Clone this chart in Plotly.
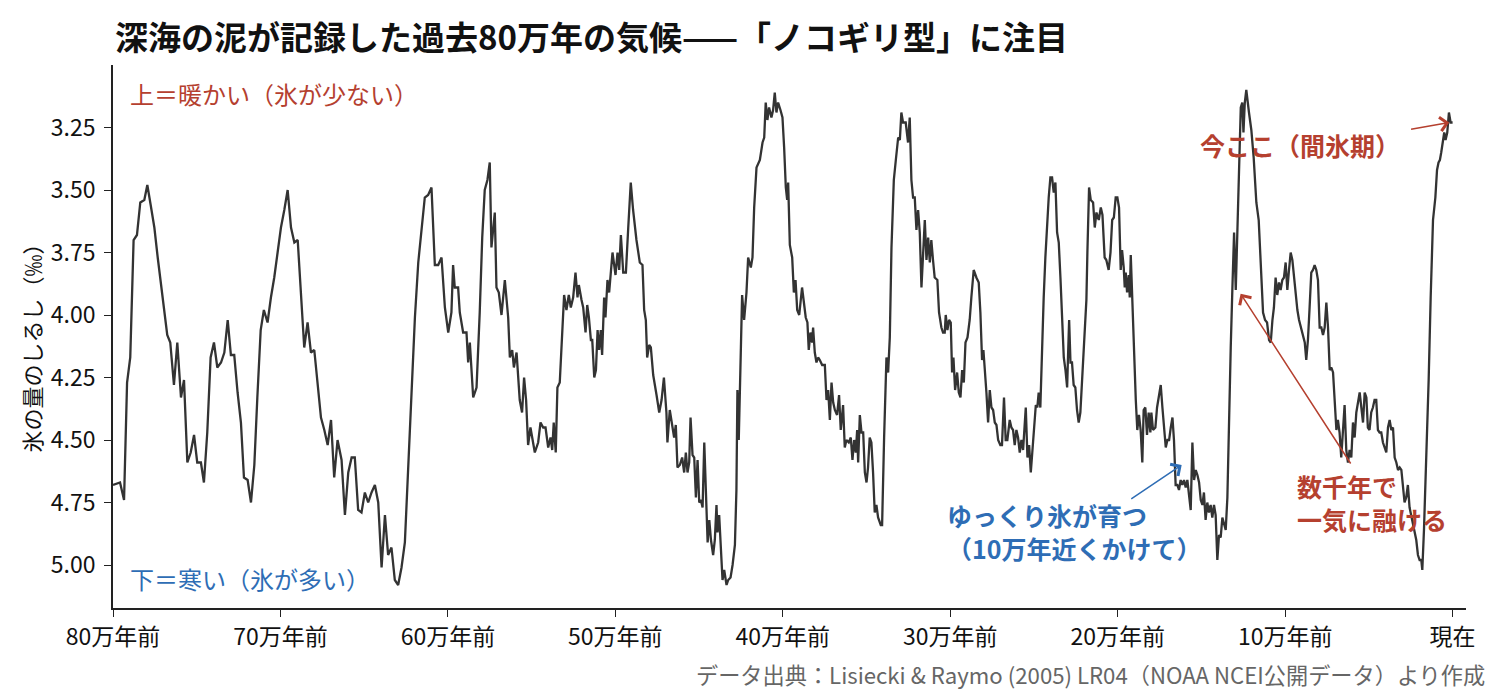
import plotly.graph_objects as go

# ---- data ----
age_kyr = [
    800.0, 795.8, 793.4, 791.6, 789.7, 787.7, 785.7, 783.7, 781.3, 779.5, 777.5, 775.3, 773.3, 771.3, 769.6,
    767.6, 765.8, 763.6, 761.6, 759.4, 757.6, 755.6, 753.6, 751.6, 749.7, 747.5, 745.7, 743.7, 741.7, 739.7,
    737.7, 735.5, 733.5, 731.5, 729.6, 727.6, 725.6, 723.6, 721.8, 719.6, 717.6, 715.6, 713.8, 711.8, 709.9,
    707.7, 705.7, 703.7, 701.7, 699.7, 697.7, 695.7, 693.7, 691.7, 689.7, 687.8, 685.8, 683.8, 681.8, 679.8,
    677.8, 675.8, 673.8, 671.8, 669.8, 667.9, 665.9,
    663.5, 661.5, 659.5, 657.5, 655.6, 653.6, 651.6, 649.6, 647.6, 645.6, 643.6, 641.6, 639.6, 637.6, 635.7,
    633.7, 631.7, 629.7, 627.7, 625.7, 623.7, 621.7, 619.7, 617.7, 615.8, 613.8, 611.8, 609.8, 607.8, 605.8,
    603.8, 601.8, 599.8, 597.9, 596.9, 595.9, 593.9, 592.9, 590.9, 588.9, 587.9, 586.9, 584.9, 582.9, 581.0,
    579.5, 578.0, 576.4, 575.0, 574.0, 572.0, 571.0, 569.6, 568.0, 566.0, 564.0, 563.0, 561.6, 560.6, 559.0,
    557.1, 555.7, 554.5, 553.3, 552.1, 550.7, 548.1, 546.1, 544.7, 543.1, 541.7, 540.1, 538.7, 537.7, 536.8,
    535.6, 534.6, 533.2, 530.6,
    529.2, 527.8, 526.6, 525.2, 523.8, 522.6, 521.8, 520.2, 519.2, 517.8, 516.8, 515.8, 514.6, 513.8, 512.6,
    511.6, 510.6, 509.7, 508.7, 507.9, 506.7, 505.9, 504.7, 503.7, 501.7, 499.9, 498.7, 497.7, 496.7, 495.3,
    493.7, 492.3, 490.8, 489.4, 487.4, 485.4, 483.8, 482.8, 481.8, 481.0, 479.8, 478.8, 477.4, 475.4, 473.8,
    472.4, 471.0, 469.5, 468.9, 467.5, 466.1, 464.9, 463.9, 462.9, 461.5, 460.1, 458.9, 457.9, 456.9, 455.9,
    455.1, 453.9, 452.9, 451.9, 450.9, 449.9, 448.9, 447.9, 446.9, 445.9, 444.9, 443.9, 442.9, 441.6, 440.6,
    439.6, 439.0, 438.0, 437.0, 436.0, 435.0, 433.6, 432.6, 431.2, 430.0, 428.6, 427.7, 427.1, 426.3, 425.3,
    424.3, 423.1, 421.7, 420.7, 419.1, 418.1, 417.1, 415.7, 413.7, 412.1, 411.1, 410.2, 409.2, 408.2, 406.8,
    405.8, 404.8, 403.8, 402.8, 401.4, 400.2, 399.2, 398.2, 397.4, 396.8, 395.8, 394.4, 393.4, 392.4, 391.4,
    390.2,
    388.5, 387.3, 386.3, 385.3, 384.5, 383.5, 382.5, 381.9, 380.9, 379.9, 378.9, 377.9, 376.5, 374.9, 373.9,
    372.9, 371.9, 370.9, 369.9, 368.9, 367.6, 366.4, 365.4, 364.0, 363.0, 362.0, 360.6, 359.4, 358.4, 357.4,
    356.4, 355.6, 355.0, 354.0, 353.0, 352.0, 351.0, 350.0, 349.1, 348.1, 347.1, 346.1, 345.1, 344.1, 343.1,
    341.5, 340.7, 339.5, 338.1, 337.1, 336.1, 335.1, 333.7, 332.5, 331.1, 330.1, 329.2, 328.2, 326.6, 325.2,
    324.2, 323.2, 322.2, 321.2, 320.2, 319.2, 318.2, 317.2, 316.2, 315.2, 314.2, 313.2, 312.2, 311.3, 310.3,
    309.3, 307.7, 306.7, 305.3, 304.3, 303.3, 302.7, 301.7, 300.7, 299.7, 298.9, 298.1, 297.1, 295.9, 294.9,
    293.9, 292.9, 291.9, 290.9, 289.7, 288.4, 287.4, 286.0, 284.4, 283.0, 282.0, 281.0, 280.2, 279.4, 278.4,
    277.4, 276.4, 275.4, 274.4, 273.4, 272.4, 271.4, 270.1, 269.1, 267.9, 266.9, 265.9, 264.5, 263.5, 262.5,
    261.5, 260.5, 259.5, 258.5, 257.5, 256.5,
    254.9, 253.9, 252.9, 251.9, 250.9, 249.9, 248.9, 248.0, 247.2, 246.2, 245.2, 244.2, 243.2, 242.2, 241.2,
    240.2, 239.2, 238.2, 237.2, 236.2, 235.2, 234.2, 233.2, 232.2, 231.2, 230.2, 229.6, 229.0, 228.2, 227.3,
    226.3, 225.3, 224.3, 223.3, 222.3, 221.3, 220.3, 219.3, 218.7, 218.1, 217.1, 216.1, 214.7, 213.7, 212.7,
    211.3, 210.1, 209.1, 207.8, 206.8, 205.4, 204.3, 203.3, 202.3, 201.2, 200.2, 199.2, 198.2, 197.4, 196.4,
    195.8, 195.2, 194.4, 193.4, 192.8, 192.2, 191.4, 190.4, 189.2, 188.3, 187.3, 186.3, 185.3, 184.5, 183.5,
    182.5, 181.5, 180.5, 179.9, 178.9, 177.5, 176.5, 175.3, 174.3, 173.3, 172.3, 171.3, 170.3, 169.3, 168.3,
    167.3, 166.4, 165.4, 164.4, 163.4, 162.4, 161.4, 160.4, 159.4, 158.4, 157.4, 156.4, 155.4, 154.4, 153.4,
    152.4, 151.4, 150.4, 149.4, 148.5, 147.5, 146.5, 145.5, 144.5, 143.5, 142.5, 141.5, 140.5, 139.5, 138.5,
    137.5, 136.5, 135.5, 134.5, 133.5, 132.5, 131.5, 130.5, 129.5, 128.5, 127.5, 126.5, 125.6, 124.9, 124.1,
    123.2,
    121.6, 120.2, 118.8, 117.2, 115.8, 114.6, 113.2, 112.0, 110.8, 109.6, 108.6, 107.6, 106.7, 105.7, 104.7,
    103.7, 102.7, 101.7, 100.7, 99.7, 98.7, 97.7, 96.7, 95.7, 94.7, 93.7, 92.7, 91.7, 90.7, 89.3,
    88.3, 87.4, 86.4, 85.4, 84.4, 83.4, 82.4, 81.4, 80.4, 79.4, 78.4, 77.4, 76.4, 75.4, 74.4,
    73.4, 72.4, 71.4, 70.4, 69.4, 68.5, 67.5, 66.5, 65.5, 64.5, 63.5, 62.5, 61.5, 60.5, 59.5,
    58.5, 57.5, 56.5, 55.5, 54.5, 53.5, 52.5, 51.5, 50.6, 49.6, 48.6, 47.6, 46.6, 45.6, 44.6,
    43.6, 42.6, 41.6, 40.6, 39.6, 38.6, 37.6, 36.6, 35.6, 34.6, 33.6, 32.6, 31.6, 30.6, 29.7,
    28.7, 27.7, 26.7, 25.7, 24.7, 23.7, 22.7, 21.7, 20.7, 19.7, 18.7, 18.1, 17.1, 15.7, 14.3,
    13.1, 11.7, 10.3, 9.3, 8.4, 7.6, 6.8, 5.8, 5.0, 4.2, 3.2, 2.2, 1.2, 0.0,
]

d18o = [
    4.68, 4.67, 4.74, 4.27, 4.17, 3.70, 3.68, 3.55, 3.54, 3.48, 3.56, 3.65, 3.77, 3.88, 3.99,
    4.08, 4.11, 4.28, 4.11, 4.33, 4.26, 4.59, 4.55, 4.48, 4.59, 4.59, 4.67, 4.47, 4.17, 4.11,
    4.21, 4.19, 4.15, 4.02, 4.16, 4.16, 4.31, 4.43, 4.65, 4.66, 4.75, 4.60, 4.33, 4.06, 3.98,
    4.03, 3.93, 3.85, 3.75, 3.65, 3.58, 3.50, 3.65, 3.71, 3.70, 3.91, 4.13, 4.03, 4.15, 4.14,
    4.27, 4.41, 4.46, 4.52, 4.42, 4.65, 4.50,
    4.58, 4.80, 4.63, 4.57, 4.57, 4.78, 4.79, 4.71, 4.75, 4.71, 4.68, 4.75, 5.01, 4.80, 4.96,
    4.93, 5.06, 5.08, 5.01, 4.91, 4.59, 4.26, 4.01, 3.79, 3.66, 3.53, 3.52, 3.49, 3.80, 3.80,
    3.77, 3.97, 4.07, 3.99, 3.80, 3.89, 3.89, 3.99, 4.07, 4.07, 4.19, 4.11, 4.33, 4.29, 3.99,
    3.69, 3.50, 3.46, 3.39, 3.73, 3.59, 3.89, 3.91, 4.00, 3.86, 4.01, 4.17, 4.14, 4.21, 4.15,
    4.34, 4.39, 4.25, 4.34, 4.52, 4.45, 4.55, 4.51, 4.43, 4.45, 4.45, 4.53, 4.49, 4.54, 4.43,
    4.55, 4.29, 4.27, 3.92,
    3.98, 3.92, 3.97, 3.93, 3.83, 3.93, 3.88, 3.94, 3.97, 4.07, 3.96, 4.01, 4.10, 4.10, 4.25,
    4.22, 4.06, 4.14, 4.06, 4.16, 3.93, 4.01, 3.86, 3.91, 3.75, 3.84, 3.75, 3.82, 3.68, 3.83,
    3.83, 3.65, 3.47, 3.58, 3.70, 3.79, 3.80, 3.98, 4.02, 4.17, 4.12, 4.13, 4.24, 4.32, 4.39,
    4.34, 4.25, 4.39, 4.51, 4.38, 4.45, 4.49, 4.44, 4.61, 4.60, 4.57, 4.63, 4.55, 4.63, 4.59,
    4.41, 4.56, 4.57, 4.73, 4.58, 4.75, 4.74, 4.77, 4.51, 4.73, 4.91, 4.82, 4.90, 4.96, 4.90,
    4.76, 4.87, 4.80, 4.93, 5.06, 5.02, 5.08, 5.06, 5.05, 5.00, 4.92, 4.70, 4.30, 4.50, 4.22,
    3.92, 4.02, 3.91, 3.77, 3.81, 3.77, 3.57, 3.41, 3.38, 3.31, 3.29, 3.15, 3.22, 3.17, 3.21,
    3.18, 3.11, 3.19, 3.15, 3.18, 3.21, 3.33, 3.49, 3.54, 3.47, 3.72, 3.77, 3.91, 3.86, 3.98,
    4.00,
    3.89, 3.97, 4.01, 4.03, 4.14, 4.07, 4.11, 4.05, 4.15, 4.19, 4.17, 4.18, 4.20, 4.20, 4.34,
    4.30, 4.42, 4.27, 4.35, 4.38, 4.40, 4.32, 4.46, 4.36, 4.53, 4.50, 4.51, 4.49, 4.58, 4.50,
    4.55, 4.46, 4.59, 4.40, 4.47, 4.47, 4.63, 4.67, 4.61, 4.49, 4.51, 4.63, 4.79, 4.76, 4.81,
    4.84, 4.84, 4.49, 4.17, 4.23, 4.09, 3.73, 3.46, 3.38, 3.29, 3.30, 3.19, 3.23, 3.23, 3.31,
    3.21, 3.46, 3.53, 3.53, 3.66, 3.58, 3.67, 3.89, 3.73, 3.62, 3.78, 3.69, 3.79, 3.70, 3.78,
    3.85, 3.86, 3.99, 4.05, 4.07, 4.07, 4.00, 4.06, 4.02, 4.03, 4.23, 4.17, 4.30, 4.23, 4.31,
    4.33, 4.22, 4.27, 4.11, 4.09, 4.02, 3.93, 3.82, 3.85, 3.87, 3.99, 4.18, 4.14, 4.21, 4.31,
    4.43, 4.30, 4.37, 4.38, 4.43, 4.44, 4.50, 4.52, 4.52, 4.33, 4.50, 4.50, 4.42, 4.45, 4.46,
    4.52, 4.46, 4.49, 4.55, 4.50, 4.54,
    4.37, 4.57, 4.52, 4.63, 4.53, 4.43, 4.36, 4.37, 4.31, 4.37, 4.13, 3.93, 3.77, 3.63, 3.53,
    3.45, 3.45, 3.51, 3.47, 3.67, 3.71, 3.85, 3.99, 4.17, 4.22, 4.29, 4.15, 4.02, 4.19, 4.19,
    4.28, 4.29, 4.38, 4.43, 4.39, 4.26, 4.09, 3.97, 3.94, 3.75, 3.49, 3.54, 3.55, 3.65, 3.59,
    3.62, 3.57, 3.60, 3.77, 3.78, 3.82, 3.75, 3.62, 3.61, 3.53, 3.53, 3.57, 3.82, 3.74, 3.81,
    3.89, 3.83, 3.91, 3.84, 3.93, 3.76, 3.93, 4.11, 4.34, 4.46, 4.40, 4.46, 4.59, 4.38, 4.37,
    4.48, 4.39, 4.47, 4.39, 4.46, 4.45, 4.37, 4.32, 4.28, 4.37, 4.46, 4.53, 4.50, 4.50, 4.45,
    4.41, 4.50, 4.68, 4.68, 4.70, 4.66, 4.68, 4.66, 4.69, 4.66, 4.71, 4.78, 4.51, 4.66, 4.62,
    4.64, 4.67, 4.74, 4.76, 4.71, 4.82, 4.75, 4.79, 4.76, 4.81, 4.76, 4.80, 4.98, 4.88, 4.89,
    4.81, 4.84, 4.86, 4.73, 4.39, 4.13, 3.89, 3.67, 3.90, 3.66, 3.39, 3.17, 3.15, 3.27, 3.15,
    3.10,
    3.19, 3.26, 3.37, 3.55, 3.62, 3.81, 3.99, 4.02, 4.03, 4.10, 4.11, 4.02, 3.97, 3.85, 3.92,
    3.87, 3.90, 3.86, 3.85, 3.79, 3.90, 3.82, 3.75, 3.78, 3.85, 3.91, 3.98, 4.02, 4.05, 4.08,
    4.11, 4.18, 4.10, 3.97, 3.83, 3.82, 3.80, 3.82, 3.86, 4.05, 4.05, 4.08, 4.05, 3.95, 4.05,
    4.22, 4.21, 4.23, 4.34, 4.46, 4.42, 4.47, 4.57, 4.45, 4.36, 4.54, 4.59, 4.54, 4.57, 4.43,
    4.49, 4.39, 4.34, 4.31, 4.37, 4.43, 4.31, 4.33, 4.45, 4.46, 4.39, 4.37, 4.34, 4.34, 4.46,
    4.47, 4.47, 4.51, 4.53, 4.55, 4.45, 4.42, 4.46, 4.45, 4.57, 4.59, 4.62, 4.61, 4.62, 4.68,
    4.75, 4.73, 4.68, 4.77, 4.80, 4.84, 4.87, 4.90, 4.96, 4.98, 4.98, 5.02, 4.86, 4.59, 4.26,
    3.93, 3.62, 3.53, 3.42, 3.39, 3.38, 3.35, 3.30, 3.27, 3.30, 3.27, 3.19, 3.23, 3.23,
]

x_tick_vals = [800, 700, 600, 500, 400, 300, 200, 100, 0]
x_tick_text = ["80万年前", "70万年前", "60万年前", "50万年前", "40万年前",
               "30万年前", "20万年前", "10万年前", "現在"]
y_tick_vals = [3.25, 3.50, 3.75, 4.00, 4.25, 4.50, 4.75, 5.00]

title_text = "深海の泥が記録した過去80万年の気候——「ノコギリ型」に注目"
y_title = "氷の量のしるし（‰）"
source_text = "データ出典：Lisiecki & Raymo (2005) LR04（NOAA NCEI公開データ）より作成"

RED = "#b5402f"
BLUE = "#2e6db5"
FONT = "Noto Sans CJK JP"
TICK = 23
NOTE = 24
BOLD = 25

fig = go.Figure()
fig.add_trace(go.Scatter(
    x=age_kyr, y=d18o, mode="lines",
    line=dict(color="#333333", width=2.3),
    hoverinfo="skip", showlegend=False,
))

fig.update_layout(
    width=1500, height=690,
    margin=dict(l=113, r=34, t=65, b=82),
    paper_bgcolor="white", plot_bgcolor="white",
    font=dict(family=FONT, color="#111111"),
    title=dict(text="<b>" + title_text + "</b>", xref="paper", x=0.0015, xanchor="left",
               yref="container", y=1 - 38 / 690, yanchor="middle",
               font=dict(family=FONT, size=33, color="#111111")),
    showlegend=False,
)

fig.update_xaxes(
    range=[800, -8], tickmode="array", tickvals=x_tick_vals, ticktext=x_tick_text,
    showline=True, linecolor="#222222", linewidth=1.8, mirror=False,
    ticks="outside", ticklen=7, tickwidth=1.4, tickcolor="#222222",
    showgrid=False, zeroline=False,
    tickfont=dict(family=FONT, size=TICK, color="#111111"),
)
fig.update_yaxes(
    range=[5.172, 3.0], tickmode="array", tickvals=y_tick_vals, tickformat=".2f",
    showline=True, linecolor="#222222", linewidth=1.8, mirror=False,
    ticks="outside", ticklen=7, tickwidth=1.4, tickcolor="#222222",
    ticklabelstandoff=4,
    showgrid=False, zeroline=False,
    tickfont=dict(family=FONT, size=TICK, color="#111111"),
)


def label(text, x, y, color, size, xanchor="left", bold=True):
    t = "<b>" + text + "</b>" if bold else text
    return dict(text=t, x=x, y=y, xref="x", yref="y", showarrow=False,
                xanchor=xanchor, yanchor="middle", align="left",
                font=dict(family=FONT, size=size, color=color))


def arrow(x, y, ax, ay, color):
    return dict(text="", x=x, y=y, ax=ax, ay=ay, xref="x", yref="y", axref="x", ayref="y",
                showarrow=True, arrowhead=4, arrowsize=1.8, arrowwidth=1.5, arrowcolor=color)


annotations = [
    # y-axis title
    dict(text=y_title, xref="paper", yref="paper", x=-0.061, y=0.49, textangle=-90,
         showarrow=False, xanchor="center", yanchor="middle",
         font=dict(family=FONT, size=22, color="#111111")),
    # corner notes
    dict(text="上＝暖かい（氷が少ない）", xref="paper", yref="paper", x=0.011, y=0.948,
         showarrow=False, xanchor="left", yanchor="middle",
         font=dict(family=FONT, size=NOTE, color=RED)),
    dict(text="下＝寒い（氷が多い）", xref="paper", yref="paper", x=0.011, y=0.055,
         showarrow=False, xanchor="left", yanchor="middle",
         font=dict(family=FONT, size=NOTE, color=BLUE)),
    # now
    label("今ここ（間氷期）", 91.3, 3.318, RED, BOLD, xanchor="center"),
    arrow(2.0, 3.23, 25.7, 3.258, RED),
    # rapid melt
    label("数千年で<br>一気に融ける", 94.3, 4.748, RED, BOLD),
    arrow(126.6, 3.915, 60.3, 4.600, RED),
    # slow growth
    label("ゆっくり氷が育つ<br>（10万年近くかけて）", 303.3, 4.866, BLUE, BOLD),
    arrow(161.8, 4.600, 192.8, 4.740, BLUE),
    # source
    dict(text=source_text, xref="paper", yref="paper", x=1.0158, y=-0.1215,
         showarrow=False, xanchor="right", yanchor="middle",
         font=dict(family=FONT, size=22.2, color="#666666")),
]
fig.update_layout(annotations=annotations)

fig.write_html("out.html")
